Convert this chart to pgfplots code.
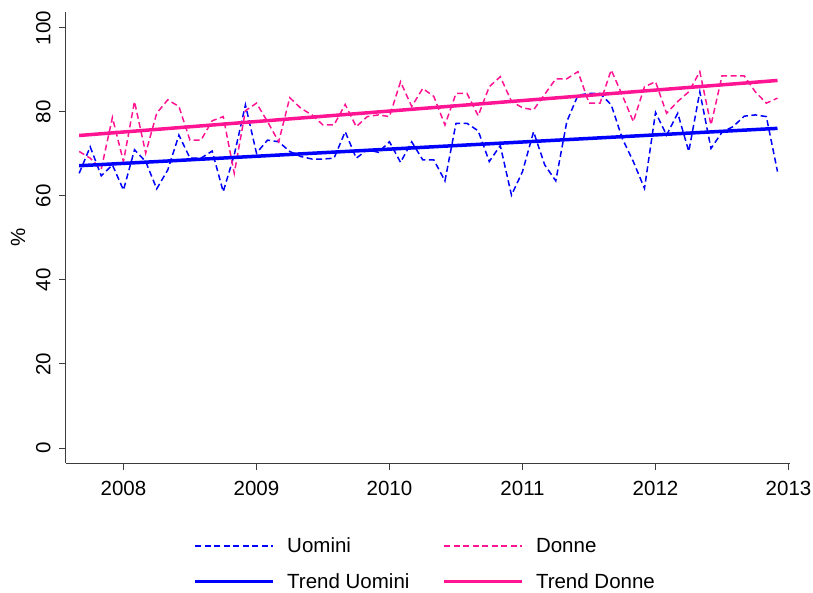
\documentclass[border=0pt]{standalone}
\usepackage{fontspec}
\setmainfont{Liberation Sans}
\usepackage{pgfplots}
\usepackage{pgfplotstable}
\pgfplotsset{compat=1.18}
\definecolor{ublue}{RGB}{0,0,255}
\definecolor{dpink}{RGB}{255,20,147}
\definecolor{axgray}{RGB}{60,60,60}

\pgfplotstableread{
x        U     D
2007.667 65.4  70.6
2007.750 71.7  69.0
2007.833 64.8  66.4
2007.917 67.4  78.7
2008.000 61.4  68.2
2008.083 71.0  82.5
2008.167 68.2  70.2
2008.250 61.7  79.7
2008.333 66.2  82.9
2008.417 74.5  81.3
2008.500 69.0  73.3
2008.583 69.0  73.3
2008.667 70.7  77.9
2008.750 61.0  78.9
2008.833 69.8  65.4
2008.917 81.7  80.3
2009.000 70.2  82.1
2009.083 73.3  77.7
2009.167 72.9  72.9
2009.250 70.6  83.4
2009.333 69.4  80.9
2009.417 68.8  79.3
2009.500 68.8  76.9
2009.583 69.0  76.9
2009.667 75.3  81.8
2009.750 69.0  76.5
2009.833 71.0  78.9
2009.917 70.4  79.3
2010.000 72.9  78.9
2010.083 68.0  87.2
2010.167 72.9  81.3
2010.250 68.6  85.6
2010.333 68.6  83.7
2010.417 63.6  76.9
2010.500 77.3  84.4
2010.583 77.3  84.4
2010.667 75.5  79.1
2010.750 68.2  86.0
2010.833 72.0  88.4
2010.917 60.2  82.5
2011.000 65.8  81.0
2011.083 75.3  80.5
2011.167 67.4  84.2
2011.250 63.6  87.9
2011.333 77.7  87.9
2011.417 84.0  89.6
2011.500 84.4  82.1
2011.583 84.4  82.1
2011.667 81.7  90.0
2011.750 73.7  84.0
2011.833 68.2  77.7
2011.917 61.8  86.0
2012.000 79.9  87.2
2012.083 74.5  79.7
2012.167 79.7  82.5
2012.250 70.6  84.8
2012.333 84.8  89.6
2012.417 71.3  76.9
2012.500 75.2  88.6
2012.583 76.5  88.6
2012.667 79.0  88.6
2012.750 79.3  84.8
2012.833 78.9  82.1
2012.917 65.8  83.3
}\datatable

\begin{document}
\begin{tikzpicture}
\begin{axis}[
  scale only axis,
  width=724pt, height=451pt,
  xmin=2007.568, xmax=2013.011,
  ymin=-3.57, ymax=103.8,
  axis lines=left,
  axis line style={-, draw=axgray, line width=1pt},
  tick align=outside,
  major tick length=7pt,
  tick style={draw=axgray, line width=1pt},
  xtick={2008,2009,2010,2011,2012,2013},
  ytick={0,20,40,60,80,100},
  /pgf/number format/assume math mode=true,
  /pgf/number format/1000 sep={},
  tick label style={font=\fontsize{20.5}{24}\selectfont, text=black},
  xticklabel shift=8pt,
  yticklabel shift=5pt,
  yticklabel style={rotate=90, anchor=south},
  ylabel={\%},
  ylabel style={at={(axis description cs:-0.0663,0.5)}, anchor=center, font=\fontsize{20.5}{24}\selectfont},
  legend columns=2,
  legend cell align=left,
  legend image code/.code={\draw[#1] (0pt,0pt) -- (78pt,0pt);},
  legend style={draw=none, fill=none, at={(axis description cs:0.172,-0.157)}, anchor=north west,
    font=\fontsize{20.5}{24}\selectfont, row sep=15pt,
    /tikz/every odd column/.append style={column sep=10pt},
    /tikz/every even column/.append style={column sep=31pt}},
  clip=false,
]
\addplot[ublue, line width=1.5pt, dash pattern=on 6pt off 3.5pt] table[x=x, y=U] {\datatable};
\addlegendentry{Uomini}
\addplot[dpink, line width=1.5pt, dash pattern=on 6pt off 3.5pt] table[x=x, y=D] {\datatable};
\addlegendentry{Donne}
\addplot[ublue, line width=3.5pt] coordinates {(2007.667,67.2) (2012.917,76.1)};
\addlegendentry{Trend Uomini}
\addplot[dpink, line width=3.5pt] coordinates {(2007.667,74.4) (2012.917,87.5)};
\addlegendentry{Trend Donne}
\coordinate (bl) at (rel axis cs:0,0);
\end{axis}
\pgfresetboundingbox
\path[use as bounding box] (bl) ++(-66pt,-129pt) rectangle ++(813pt,592pt);
\end{tikzpicture}
\end{document}
